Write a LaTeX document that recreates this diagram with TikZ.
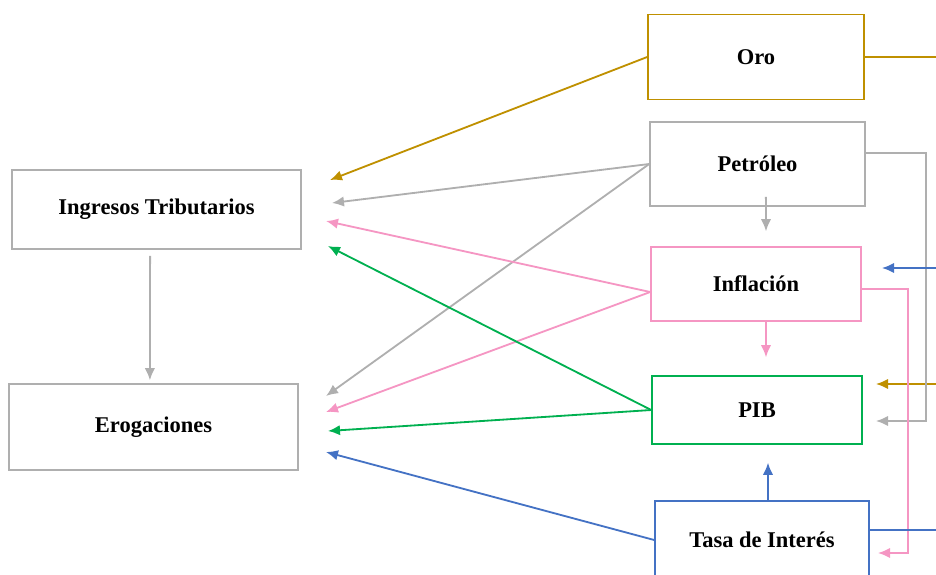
\documentclass[tikz,border=0pt]{standalone}
\usepackage{fontspec}
\setmainfont{Liberation Serif}
\usetikzlibrary{arrows.meta}
\definecolor{oro}{RGB}{191,144,0}
\definecolor{gris}{RGB}{175,175,175}
\definecolor{rosa}{RGB}{245,150,195}
\definecolor{verde}{RGB}{0,176,80}
\definecolor{azul}{RGB}{68,114,196}
\tikzset{
  cajabase/.style={draw, line width=1.1pt, fill=white, inner sep=0pt,
    font=\fontsize{16}{19}\selectfont\bfseries},
  flecha/.style={line width=1.3pt, -{Latex[length=3mm,width=2.6mm]}},
  linea/.style={line width=1.3pt}
}
\newcommand\caja[7]{
  \node[cajabase, draw=#2, minimum width=#5, minimum height=#6] (#1) at (#3,#4) {#7};
}

\begin{document}
\begin{tikzpicture}[x=0.025cm,y=-0.025cm]
\useasboundingbox (0,0) rectangle (936,574);
\clip (0,0) rectangle (936,574);

\caja{ingresos}{gris}{156.5}{209.5}{7.225cm}{1.975cm}{Ingresos Tributarios}
\caja{erogaciones}{gris}{153.5}{427}{7.225cm}{2.15cm}{Erogaciones}
\caja{oro}{oro}{756}{57}{5.4cm}{2.125cm}{Oro}
\caja{petroleo}{gris}{757.5}{164}{5.375cm}{2.1cm}{Petróleo}
\caja{inflacion}{rosa}{756}{284}{5.25cm}{1.85cm}{Inflación}
\caja{pib}{verde}{757}{410}{5.25cm}{1.7cm}{PIB}
\caja{tasa}{azul}{762}{540}{5.35cm}{1.95cm}{Tasa de Interés}

% extremos libres
\coordinate (ingOro) at (330,180);
\coordinate (ingPet) at (332,203);
\coordinate (ingInf) at (326,221);
\coordinate (ingPib) at (328,246);
\coordinate (eroPet) at (326,396);
\coordinate (eroInf) at (326,412);
\coordinate (eroPib) at (328,431);
\coordinate (eroTasa) at (326,452);
\coordinate (salOro) at (936,57);
\coordinate (entraOro) at (936,384);
\coordinate (pibOro) at (876,384);
\coordinate (entraAzul) at (936,268);
\coordinate (infAzul) at (882,268);
\coordinate (salTasa) at (936,530);
\coordinate (vueltaPet) at (926,421);
\coordinate (pibPet) at (876,421);
\coordinate (vueltaInf) at (908,553);
\coordinate (tasaInf) at (878,553);

\draw[flecha,oro] (oro.west) -- (ingOro);
\draw[linea,oro] (oro.east) -- (salOro);
\draw[flecha,oro] (entraOro) -- (pibOro);

\draw[flecha,gris] (petroleo.west) -- (ingPet);
\draw[flecha,gris] (petroleo.west) -- (eroPet);
\draw[flecha,gris] ([yshift=.275cm]petroleo.east) -| (vueltaPet) -- (pibPet);
\draw[flecha,gris] ([xshift=.21cm,yshift=.25cm]petroleo.south) -- ([xshift=.25cm,yshift=.375cm]inflacion.north);

\draw[flecha,rosa] ([yshift=-.2cm]inflacion.west) -- (ingInf);
\draw[flecha,rosa] ([yshift=-.2cm]inflacion.west) -- (eroInf);
\draw[flecha,rosa] ([yshift=-.125cm]inflacion.east) -| (vueltaInf) -- (tasaInf);
\draw[flecha,rosa] ([xshift=.25cm]inflacion.south) -- ([xshift=.225cm,yshift=.45cm]pib.north);

\draw[flecha,verde] (pib.west) -- (ingPib);
\draw[flecha,verde] (pib.west) -- (eroPib);

\draw[flecha,azul] (tasa.west) -- (eroTasa);
\draw[flecha,azul] ([xshift=.15cm]tasa.north) -- ([xshift=.275cm,yshift=-.45cm]pib.south);
\draw[linea,azul] ([yshift=.25cm]tasa.east) -- (salTasa);
\draw[flecha,azul] (entraAzul) -- (infAzul);

\draw[flecha,gris] ([xshift=-.16cm,yshift=-.15cm]ingresos.south) -- ([xshift=-.09cm,yshift=.075cm]erogaciones.north);

\end{tikzpicture}
\end{document}
